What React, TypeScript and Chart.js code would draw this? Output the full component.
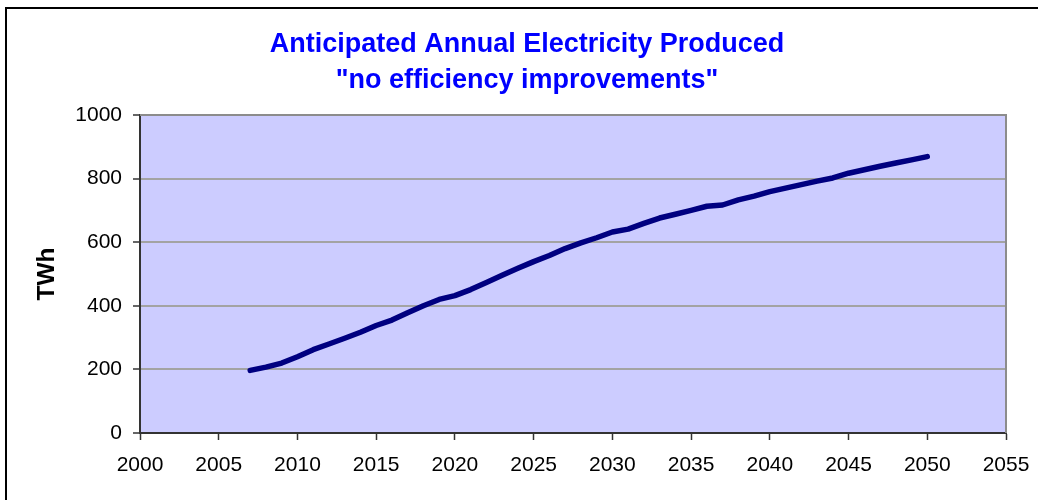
import React, { useEffect, useRef } from "react";
import { Chart, registerables } from "chart.js";

Chart.register(...registerables);

// Annual electricity production, TWh
const years: number[] = [
  2007, 2008, 2009, 2010, 2011, 2012, 2013, 2014, 2015, 2016, 2017, 2018, 2019, 2020,
  2021, 2022, 2023, 2024, 2025, 2026, 2027, 2028, 2029, 2030, 2031, 2032, 2033, 2034,
  2035, 2036, 2037, 2038, 2039, 2040, 2041, 2042, 2043, 2044, 2045, 2046, 2047, 2048,
  2049, 2050,
];
const production: number[] = [
  197, 207, 220, 240, 262, 280, 298, 317, 338, 355, 378, 400, 420, 432,
  451, 473, 496, 518, 539, 558, 580, 598, 614, 632, 641, 659, 676, 688,
  700, 713, 717, 733, 745, 759, 770, 781, 792, 802, 817, 828, 839, 849,
  859, 869,
];

const titleLines: string[] = [
  "Anticipated Annual Electricity Produced",
  "\"no efficiency improvements\"",
];
const yAxisTitle = "TWh";

const FONT = "'Liberation Sans', Arial, Helvetica, sans-serif";

// Frame, plot background, plot border and the two title lines
const decorPlugin = {
  id: "decor",
  beforeDraw(chart: any) {
    const { ctx, chartArea } = chart;
    ctx.save();
    ctx.fillStyle = "#ffffff";
    ctx.fillRect(0, 0, chart.width, chart.height);
    ctx.fillStyle = "#000000";
    ctx.fillRect(5, 7, 2, chart.height);
    ctx.fillRect(5, 7, chart.width, 2);
    ctx.fillStyle = "#ccccff";
    ctx.fillRect(chartArea.left, chartArea.top, chartArea.right - chartArea.left, chartArea.bottom - chartArea.top);
    ctx.restore();
  },
  beforeDatasetsDraw(chart: any) {
    const { ctx, chartArea } = chart;
    ctx.save();
    ctx.strokeStyle = "#8c8c8c";
    ctx.lineWidth = 2;
    ctx.beginPath();
    ctx.moveTo(chartArea.left, chartArea.top);
    ctx.lineTo(chartArea.right, chartArea.top);
    ctx.lineTo(chartArea.right, chartArea.bottom);
    ctx.stroke();
    ctx.restore();
  },
  afterDraw(chart: any) {
    const { ctx } = chart;
    ctx.save();
    ctx.fillStyle = "#0000ff";
    ctx.font = `bold 27px ${FONT}`;
    ctx.textAlign = "center";
    ctx.textBaseline = "alphabetic";
    ctx.fillText(titleLines[0], 527, 52);
    ctx.fillText(titleLines[1], 527, 88);
    ctx.restore();
  },
};

export default function App() {
  const canvasRef = useRef<HTMLCanvasElement | null>(null);

  useEffect(() => {
    if (!canvasRef.current) return;
    const chart = new Chart(canvasRef.current, {
      type: "line",
      data: {
        datasets: [
          {
            data: years.map((x, i) => ({ x, y: production[i] })),
            borderColor: "#000080",
            borderWidth: 5.5,
            borderCapStyle: "round",
            borderJoinStyle: "round",
            pointRadius: 0,
            tension: 0,
            fill: false,
          },
        ],
      },
      options: {
        animation: false,
        responsive: false,
        maintainAspectRatio: false,
        layout: { padding: { left: 0, right: 32, top: 115, bottom: 0 } },
        plugins: {
          legend: { display: false },
          title: { display: false },
          tooltip: { enabled: false },
        },
        scales: {
          x: {
            type: "linear",
            min: 2000,
            max: 2055,
            afterFit(scale: any) {
              scale.height = 67;
              scale.paddingLeft = 0;
              scale.paddingRight = 0;
            },
            ticks: {
              stepSize: 5,
              color: "#000",
              padding: 13,
              maxRotation: 0,
              autoSkip: false,
              font: { family: FONT, size: 21 },
              callback: (v: any) => String(v),
            },
            grid: {
              drawOnChartArea: false,
              drawTicks: true,
              tickLength: 7,
              tickColor: "#333",
              tickWidth: 1.5,
            },
            border: { color: "#333", width: 2 },
          },
          y: {
            type: "linear",
            min: 0,
            max: 1000,
            afterFit(scale: any) {
              scale.width = 140;
              scale.paddingTop = 0;
              scale.paddingBottom = 0;
            },
            ticks: {
              stepSize: 200,
              color: "#000",
              padding: 11,
              font: { family: FONT, size: 21 },
              callback: (v: any) => String(v),
            },
            grid: {
              color: "#a3a3a3",
              lineWidth: 2,
              tickLength: 7,
              tickColor: "#333",
              tickWidth: 1.5,
            },
            border: { color: "#333", width: 2 },
            title: {
              display: true,
              text: yAxisTitle,
              color: "#000",
              font: { family: FONT, size: 24.5, weight: "bold" },
              padding: { top: 33, bottom: 0 },
            },
          },
        },
      },
      plugins: [decorPlugin],
    });
    return () => chart.destroy();
  }, []);

  return (
    <div
      style={{
        position: "absolute",
        left: 0,
        top: 0,
        width: 1038,
        height: 500,
        overflow: "hidden",
        background: "#fff",
      }}
    >
      <canvas ref={canvasRef} width={1038} height={500} style={{ display: "block" }} />
    </div>
  );
}
